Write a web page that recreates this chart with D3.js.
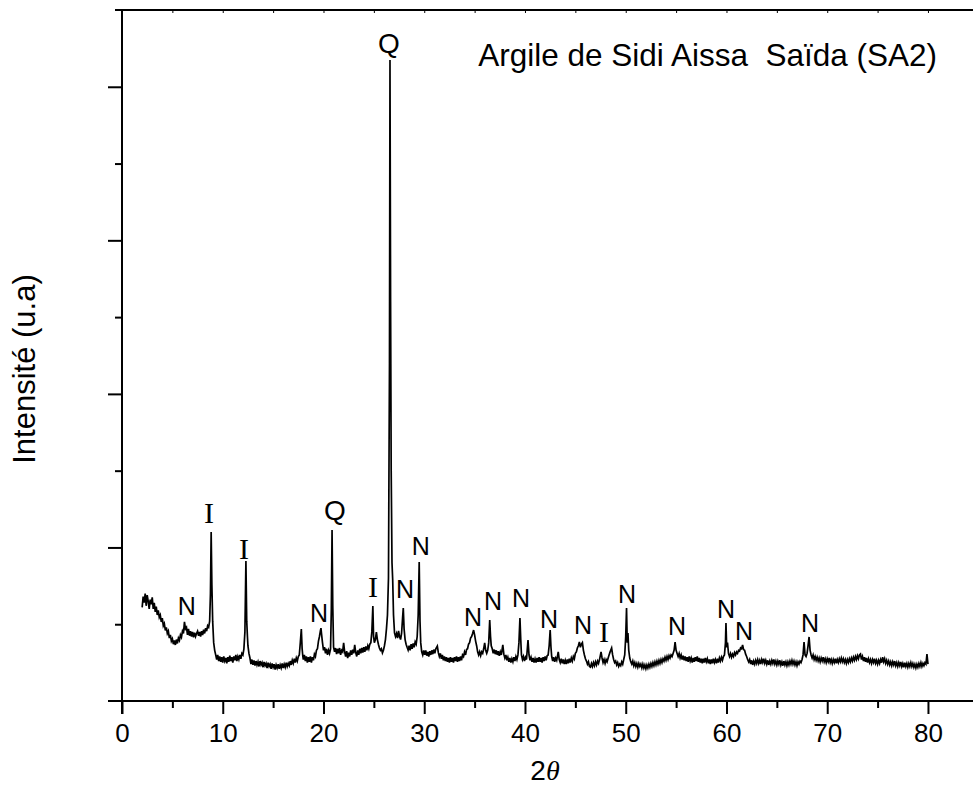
<!DOCTYPE html>
<html>
<head>
<meta charset="utf-8">
<script src="https://cdn.jsdelivr.net/npm/d3@7"></script>
<style>
  body { margin: 0; background: #fff; }
  svg { display: block; }
  text { font-family: "Liberation Sans", Arial, sans-serif; fill: #000; }
</style>
</head>
<body>
<svg id="chart" width="973" height="790"></svg>
<script>
// ---- DATA ----
const title = "Argile de Sidi Aissa  Saïda (SA2)";
const xLabel = "2";
const xLabelGreek = "θ";
const yLabel = "Intensité (u.a)";
const xMajorTicks = [0, 10, 20, 30, 40, 50, 60, 70, 80];
const xMinorTicks = [5, 15, 25, 35, 45, 55, 65, 75];
const xTopTicks = [5, 10, 15, 20, 25, 30, 35, 40, 45, 50, 55, 60, 65, 70, 75, 80];
const yMajorTicks = [1000, 2000, 3000, 4000];
const yMinorTicks = [500, 1500, 2500, 3500];

// XRD scan: [2θ, intensity]
const scan = [
[2.0,610],[2.1,680],[2.2,640],[2.3,700],[2.4,620],[2.5,690],[2.6,650],[2.7,600],[2.8,660],[2.9,630],
[3.0,675],[3.1,600],[3.2,640],[3.3,580],[3.4,615],[3.5,560],[3.6,590],[3.7,545],[3.8,560],[3.9,515],
[4.0,540],[4.1,490],[4.2,505],[4.3,460],[4.4,480],[4.5,440],[4.6,455],[4.7,410],[4.8,430],[4.9,390],
[5.0,405],[5.1,370],[5.2,395],[5.3,365],[5.4,400],[5.5,375],[5.6,410],[5.7,395],[5.8,430],[5.9,415],
[6.0,455],[6.1,440],[6.2,515],[6.3,470],[6.4,480],[6.5,430],[6.6,470],[6.7,425],[6.8,455],[6.9,420],
[7.0,450],[7.1,415],[7.2,445],[7.3,420],[7.4,440],[7.5,455],[7.6,425],[7.7,450],[7.8,420],[7.9,455],
[8.0,430],[8.1,465],[8.2,440],[8.3,475],[8.4,455],[8.5,490],[8.6,480],[8.7,520],[8.78,700],[8.85,1100],
[8.92,760],[9.0,520],[9.1,380],[9.2,330],[9.3,300],[9.4,270],[9.5,300],[9.6,260],[9.7,290],[9.8,255],
[9.9,285],[10.0,250],[10.1,290],[10.2,260],[10.3,280],[10.4,245],[10.5,285],[10.6,255],[10.7,295],[10.8,260],
[10.9,285],[11.0,250],[11.1,290],[11.2,265],[11.3,300],[11.4,260],[11.5,290],[11.6,270],[11.7,300],[11.8,275],
[11.9,310],[12.0,300],[12.1,340],[12.2,450],[12.3,912],[12.38,520],[12.45,420],[12.5,360],[12.6,310],[12.7,280],
[12.8,240],[12.9,270],[13.0,235],[13.1,265],[13.2,230],[13.3,260],[13.4,235],[13.5,255],[13.6,225],[13.7,260],
[13.8,235],[13.9,250],[14.0,220],[14.1,255],[14.2,230],[14.3,245],[14.4,215],[14.5,250],[14.6,225],[14.7,240],
[14.8,210],[14.9,245],[15.0,220],[15.1,240],[15.2,205],[15.3,235],[15.4,215],[15.5,240],[15.6,210],[15.7,235],
[15.8,215],[15.9,245],[16.0,215],[16.1,240],[16.2,220],[16.3,250],[16.4,225],[16.5,245],[16.6,230],[16.7,260],
[16.8,235],[16.9,265],[17.0,245],[17.1,275],[17.2,250],[17.3,280],[17.4,260],[17.5,290],[17.6,300],[17.7,380],
[17.8,469],[17.88,340],[17.95,290],[18.0,270],[18.1,300],[18.2,260],[18.3,290],[18.4,250],[18.5,285],[18.6,255],
[18.7,290],[18.8,250],[18.9,285],[19.0,265],[19.1,305],[19.2,290],[19.3,330],[19.4,340],[19.5,390],[19.6,420],
[19.7,460],[19.75,475],[19.8,440],[19.9,380],[20.0,330],[20.1,350],[20.2,310],[20.3,340],[20.4,300],[20.5,330],
[20.6,310],[20.7,340],[20.78,600],[20.85,1114],[20.92,620],[21.0,350],[21.1,320],[21.2,345],[21.3,305],[21.4,340],
[21.5,310],[21.6,345],[21.7,300],[21.8,330],[21.9,320],[22.0,378],[22.1,320],[22.2,290],[22.3,325],[22.4,280],
[22.5,315],[22.6,290],[22.7,330],[22.8,300],[22.9,335],[23.0,310],[23.1,365],[23.2,315],[23.3,290],[23.4,330],
[23.5,300],[23.6,340],[23.7,310],[23.8,345],[23.9,315],[24.0,350],[24.1,320],[24.2,355],[24.3,330],[24.4,360],
[24.5,340],[24.6,370],[24.7,380],[24.8,450],[24.9,619],[24.97,420],[25.05,380],[25.15,400],[25.25,449],[25.35,400],
[25.45,370],[25.55,345],[25.65,330],[25.75,340],[25.85,313],[25.95,330],[26.05,360],[26.15,400],[26.25,470],[26.35,560],
[26.45,800],[26.55,2200],[26.6,4174],[26.66,2600],[26.72,1500],[26.8,900],[26.87,788],[26.95,560],[27.05,443],[27.15,420],
[27.25,440],[27.35,410],[27.45,456],[27.55,420],[27.65,400],[27.75,440],[27.85,540],[27.92,606],[28.0,470],[28.1,400],
[28.2,370],[28.3,350],[28.4,332],[28.5,360],[28.6,330],[28.7,370],[28.8,340],[28.9,375],[29.0,350],[29.1,385],
[29.2,370],[29.3,420],[29.4,560],[29.5,905],[29.58,520],[29.65,380],[29.75,320],[29.85,300],[29.95,330],[30.05,300],
[30.15,330],[30.25,295],[30.35,320],[30.45,290],[30.55,325],[30.65,300],[30.75,330],[30.85,305],[30.95,335],[31.05,310],
[31.15,340],[31.3,358],[31.4,315],[31.5,290],[31.6,310],[31.7,275],[31.8,300],[31.9,265],[32.0,290],[32.1,260],
[32.2,285],[32.3,255],[32.4,280],[32.5,250],[32.6,285],[32.7,255],[32.8,280],[32.9,250],[33.0,285],[33.1,260],
[33.2,290],[33.3,255],[33.4,285],[33.5,260],[33.6,290],[33.7,265],[33.8,300],[33.9,290],[34.0,320],[34.1,300],
[34.2,335],[34.3,340],[34.4,370],[34.5,380],[34.6,410],[34.7,420],[34.8,440],[34.9,462],[35.0,430],[35.1,390],
[35.2,360],[35.3,320],[35.4,300],[35.5,320],[35.6,295],[35.7,320],[35.8,310],[35.9,340],[36.0,378],[36.1,330],
[36.2,310],[36.3,330],[36.4,380],[36.5,527],[36.58,420],[36.65,360],[36.75,340],[36.85,310],[36.95,335],[37.05,305],
[37.15,330],[37.25,300],[37.35,325],[37.45,295],[37.55,320],[37.65,300],[37.8,365],[37.9,305],[38.0,280],[38.1,300],
[38.2,265],[38.3,285],[38.4,255],[38.5,280],[38.6,250],[38.7,275],[38.8,255],[38.9,285],[39.0,260],[39.1,290],
[39.2,270],[39.3,300],[39.4,380],[39.5,540],[39.58,400],[39.65,300],[39.75,270],[39.85,290],[39.95,260],[40.05,285],
[40.15,270],[40.3,397],[40.4,300],[40.5,265],[40.6,285],[40.7,255],[40.8,280],[40.9,250],[41.0,275],[41.1,250],
[41.2,280],[41.3,255],[41.4,285],[41.5,255],[41.6,280],[41.7,250],[41.8,285],[41.9,260],[42.0,290],[42.1,265],
[42.2,295],[42.3,300],[42.4,360],[42.5,462],[42.58,350],[42.65,290],[42.75,260],[42.85,285],[42.95,255],[43.05,280],
[43.15,265],[43.3,320],[43.4,270],[43.5,250],[43.6,275],[43.7,245],[43.8,270],[43.9,240],[44.0,265],[44.1,240],
[44.2,270],[44.3,245],[44.4,275],[44.5,250],[44.6,280],[44.7,260],[44.8,290],[44.9,275],[45.0,310],[45.1,320],
[45.2,345],[45.3,360],[45.4,385],[45.5,350],[45.6,370],[45.7,380],[45.8,330],[45.9,300],[46.0,275],[46.1,260],
[46.2,240],[46.3,255],[46.4,225],[46.5,221],[46.6,245],[46.7,225],[46.8,250],[46.9,230],[47.0,255],[47.1,235],
[47.2,260],[47.3,245],[47.4,270],[47.55,320],[47.65,280],[47.75,250],[47.85,270],[47.95,245],[48.05,270],[48.15,255],
[48.3,290],[48.45,320],[48.6,345],[48.7,300],[48.8,270],[48.9,250],[49.0,260],[49.1,235],[49.2,250],[49.3,225],
[49.4,240],[49.5,230],[49.6,255],[49.7,240],[49.8,270],[49.9,300],[50.0,420],[50.08,606],[50.15,380],[50.22,443],
[50.3,330],[50.4,280],[50.5,255],[50.6,240],[50.7,260],[50.8,230],[50.9,250],[51.0,225],[51.1,245],[51.2,220],
[51.3,245],[51.4,225],[51.5,240],[51.6,215],[51.7,240],[51.8,215],[51.9,235],[52.0,210],[52.1,235],[52.2,215],
[52.3,240],[52.4,220],[52.5,245],[52.6,225],[52.7,250],[52.8,230],[52.9,255],[53.0,235],[53.1,260],[53.2,240],
[53.3,265],[53.4,245],[53.5,270],[53.6,250],[53.7,275],[53.8,260],[53.9,285],[54.0,265],[54.1,290],[54.2,270],
[54.3,295],[54.4,280],[54.5,300],[54.6,290],[54.7,310],[54.8,330],[54.9,384],[55.0,330],[55.1,310],[55.2,290],
[55.3,310],[55.4,280],[55.5,300],[55.6,270],[55.7,295],[55.8,265],[55.9,290],[56.0,260],[56.1,285],[56.2,255],
[56.3,290],[56.4,260],[56.5,280],[56.6,250],[56.7,280],[56.8,255],[56.9,285],[57.0,260],[57.1,290],[57.2,255],
[57.3,280],[57.4,250],[57.5,275],[57.6,245],[57.7,275],[57.8,250],[57.9,280],[58.0,255],[58.1,275],[58.2,245],
[58.3,270],[58.4,240],[58.5,270],[58.6,245],[58.7,275],[58.8,250],[58.9,270],[59.0,245],[59.1,275],[59.2,250],
[59.3,280],[59.4,260],[59.5,285],[59.6,265],[59.7,290],[59.8,300],[59.9,380],[59.95,508],[60.02,350],[60.1,380],
[60.2,310],[60.3,290],[60.4,310],[60.5,285],[60.6,305],[60.7,290],[60.8,315],[60.9,300],[61.0,320],[61.1,310],
[61.2,330],[61.3,325],[61.4,345],[61.5,340],[61.6,365],[61.7,335],[61.8,330],[61.9,305],[62.0,290],[62.1,270],
[62.2,255],[62.3,270],[62.4,240],[62.5,265],[62.6,235],[62.7,260],[62.8,240],[62.9,265],[63.0,245],[63.1,270],
[63.2,245],[63.3,265],[63.4,240],[63.5,270],[63.6,250],[63.7,275],[63.8,245],[63.9,265],[64.0,240],[64.1,265],
[64.2,235],[64.3,260],[64.4,240],[64.5,265],[64.6,245],[64.7,270],[64.8,240],[64.9,260],[65.0,235],[65.1,260],
[65.2,240],[65.3,265],[65.4,235],[65.5,255],[65.6,230],[65.7,260],[65.8,235],[65.9,255],[66.0,230],[66.1,255],
[66.2,235],[66.3,260],[66.4,240],[66.5,265],[66.6,240],[66.7,260],[66.8,235],[66.9,255],[67.0,230],[67.1,255],
[67.2,240],[67.3,260],[67.4,250],[67.5,270],[67.6,300],[67.7,384],[67.8,300],[67.9,290],[68.0,310],[68.1,360],
[68.2,417],[68.3,330],[68.4,300],[68.5,280],[68.6,300],[68.7,270],[68.8,290],[68.9,265],[69.0,285],[69.1,260],
[69.2,280],[69.3,255],[69.4,280],[69.5,260],[69.6,285],[69.7,255],[69.8,275],[69.9,250],[70.0,275],[70.1,255],
[70.2,280],[70.3,250],[70.4,270],[70.5,245],[70.6,270],[70.7,250],[70.8,275],[70.9,245],[71.0,270],[71.1,250],
[71.2,275],[71.3,255],[71.4,280],[71.5,255],[71.6,275],[71.7,250],[71.8,270],[71.9,245],[72.0,270],[72.1,250],
[72.2,275],[72.3,255],[72.4,280],[72.5,260],[72.6,285],[72.7,265],[72.8,290],[72.9,270],[73.0,295],[73.1,275],
[73.2,300],[73.3,306],[73.4,270],[73.5,290],[73.6,260],[73.7,285],[73.8,255],[73.9,280],[74.0,250],[74.1,275],
[74.2,250],[74.3,270],[74.4,245],[74.5,270],[74.6,250],[74.7,275],[74.8,245],[74.9,265],[75.0,240],[75.1,265],
[75.2,245],[75.3,270],[75.4,250],[75.5,285],[75.6,255],[75.7,275],[75.8,245],[75.9,265],[76.0,240],[76.1,260],
[76.2,235],[76.3,255],[76.4,230],[76.5,255],[76.6,235],[76.7,260],[76.8,230],[76.9,250],[77.0,225],[77.1,250],
[77.2,230],[77.3,255],[77.4,225],[77.5,245],[77.6,220],[77.7,250],[77.8,225],[77.9,245],[78.0,220],[78.1,245],
[78.2,225],[78.3,250],[78.4,225],[78.5,245],[78.6,220],[78.7,240],[78.8,215],[78.9,240],[79.0,220],[79.1,245],
[79.2,225],[79.3,250],[79.4,225],[79.5,245],[79.6,230],[79.7,250],[79.8,240],[79.9,306],[80.0,240]
];

// Phase labels
const peakLabelText = ["N","I","I","N","Q","I","N","N","N","N","N","N","N","I","N","N","N","N","N","Q"];
const peakLabelPos  = [6.42, 8.63, 12.11, 19.55, 21.14, 24.91, 28.09, 29.65, 34.84, 36.82, 39.6, 42.38, 45.76, 47.84, 50.12, 55.09, 59.95, 61.74, 68.29, 26.5];
const peakLabelInt  = [560, 1159, 925, 514, 1179, 677, 671, 951, 488, 593, 612, 475, 436, 384, 638, 430, 540, 397, 449, 4220];

// ---- CHART ----
const svg = d3.select("#chart");
const x = d3.scaleLinear().domain([0, 84.5]).range([122, 973.3]);
const y = d3.scaleLinear().domain([0, 4500]).range([701, 10]);
const axisW = 2;

const line = d3.line().x(d => x(d[0])).y(d => y(d[1]));
svg.append("path")
  .datum(scan)
  .attr("d", line)
  .attr("fill", "none")
  .attr("stroke", "#000")
  .attr("stroke-width", 1.7)
  .attr("stroke-linejoin", "miter");

function styleAxis(g) {
  g.select(".domain").remove();
  g.selectAll(".tick line").attr("stroke", "#000").attr("stroke-width", axisW);
  g.selectAll(".tick text").style("font-size", "26px").attr("font-family", "Liberation Sans, Arial, sans-serif");
}

svg.append("g").attr("transform", "translate(0,701)")
  .call(d3.axisBottom(x).tickValues(xMajorTicks).tickSize(13).tickPadding(10).tickFormat(d3.format("d")))
  .call(styleAxis);
svg.append("g").attr("transform", "translate(0,701)")
  .call(d3.axisBottom(x).tickValues(xMinorTicks).tickSize(7).tickFormat(""))
  .call(styleAxis);
svg.append("g").attr("transform", "translate(0,10)")
  .call(d3.axisBottom(x).tickValues(xTopTicks).tickSize(3).tickFormat(""))
  .call(g => { g.select(".domain").remove(); g.selectAll(".tick line").attr("stroke", "#000").attr("stroke-width", 1); });
svg.append("g").attr("transform", "translate(122,0)")
  .call(d3.axisLeft(y).tickValues(yMajorTicks).tickSize(14).tickFormat(""))
  .call(styleAxis);
svg.append("g").attr("transform", "translate(122,0)")
  .call(d3.axisLeft(y).tickValues(yMinorTicks).tickSize(7).tickFormat(""))
  .call(styleAxis);

svg.append("line").attr("x1", 108).attr("x2", 973).attr("y1", y(0)).attr("y2", y(0))
  .attr("stroke", "#000").attr("stroke-width", axisW);
svg.append("line").attr("x1", 115).attr("x2", 973).attr("y1", y(4500)).attr("y2", y(4500))
  .attr("stroke", "#000").attr("stroke-width", axisW);
svg.append("line").attr("x1", x(0)).attr("x2", x(0)).attr("y1", 9).attr("y2", 714)
  .attr("stroke", "#000").attr("stroke-width", axisW);

// title (preserve double space)
svg.append("text").attr("x", 937).attr("y", 66).attr("text-anchor", "end")
  .attr("xml:space", "preserve").style("white-space", "pre")
  .style("font-size", "31.5px").text(title);

// x label
const xl = svg.append("text").attr("x", 545).attr("y", 780).attr("text-anchor", "middle")
  .style("font-size", "28px");
xl.append("tspan").text(xLabel);
xl.append("tspan").attr("font-family", "Liberation Serif, Times New Roman, serif").attr("font-style", "italic").text(xLabelGreek);

// y label
svg.append("text").attr("transform", "translate(35,369) rotate(-90)").attr("text-anchor", "middle")
  .style("font-size", "31px").text(yLabel);

// peak labels
peakLabelText.forEach((t, i) => {
  const serif = t === "I";
  svg.append("text")
    .attr("x", x(peakLabelPos[i])).attr("y", y(peakLabelInt[i]))
    .attr("text-anchor", "middle")
    .style("font-family", serif ? "Liberation Serif, Times New Roman, serif" : "Liberation Sans, Arial, sans-serif")
    .style("font-size", serif ? "30px" : (t === "Q" ? "28px" : "25px"))
    .text(t);
});
</script>
</body>
</html>
